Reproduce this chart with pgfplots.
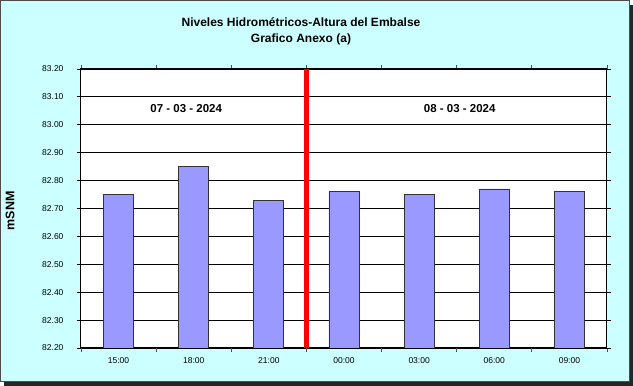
\documentclass[border=0pt]{standalone}
\usepackage{pgfplots}
\pgfplotsset{compat=1.18}
\usepackage{fontspec}
\setmainfont{Liberation Sans}
\definecolor{bgc}{RGB}{204,255,255}
\definecolor{barc}{RGB}{153,153,255}
\begin{document}
\begin{tikzpicture}
\useasboundingbox (0,0) rectangle (633pt,386pt);
\fill[black!85] (4pt,0) rectangle (633pt,381pt);
\filldraw[fill=bgc, draw=black!70, line width=0.8pt] (0.4pt,5pt) rectangle (629pt,385.6pt);
\node[font=\bfseries\fontsize{12}{16}\selectfont, align=center] at (301pt,355pt) {Niveles Hidrométricos-Altura del Embalse\\Grafico Anexo (a)};
\node[font=\bfseries\fontsize{12.5}{14}\selectfont, rotate=90] at (10pt,175pt) {mSNM};
\begin{axis}[
  at={(81pt,38pt)}, anchor=south west,
  scale only axis, width=526pt, height=279pt,
  axis background/.style={fill=white},
  xmin=-0.5, xmax=6.5, ymin=82.2, ymax=83.2,
  ytick={82.2,82.3,...,83.21},
  yticklabel style={xshift=-10pt},
  y tick label style={/pgf/number format/fixed, /pgf/number format/fixed zerofill, /pgf/number format/precision=2, /pgf/number format/assume math mode=true},
  xticklabel style={yshift=-2pt},
  ticklabel style={font=\fontsize{8.5}{10}\selectfont},
  xtick={0,...,6},
  xticklabels={15:00,18:00,21:00,00:00,03:00,06:00,09:00},
  minor xtick={-0.5,0.5,...,6.5},
  tick align=outside,
  major tick length=4pt, minor tick length=4pt,
  x tick style={draw=none},
  minor x tick style={draw=black!70, line width=0.8pt},
  y tick style={black, line width=0.8pt},
  ymajorgrids, grid style={black, line width=0.8pt},
  axis line style={black, line width=1pt},
  ybar, bar width=30pt,
  clip=true,
]
\addplot[fill=barc, draw=black!80, line width=0.8pt] coordinates {
 (0,82.75) (1,82.85) (2,82.73) (3,82.76) (4,82.75) (5,82.77) (6,82.76)};
\addplot[sharp plot, red, line width=5pt, forget plot] coordinates {(2.5,82.2) (2.5,83.2)};
\node[font=\bfseries\fontsize{11.5}{13}\selectfont] at (axis cs:0.9,83.06) {07 - 03 - 2024};
\node[font=\bfseries\fontsize{11.5}{13}\selectfont] at (axis cs:4.54,83.06) {08 - 03 - 2024};
\end{axis}
\end{tikzpicture}
\end{document}
